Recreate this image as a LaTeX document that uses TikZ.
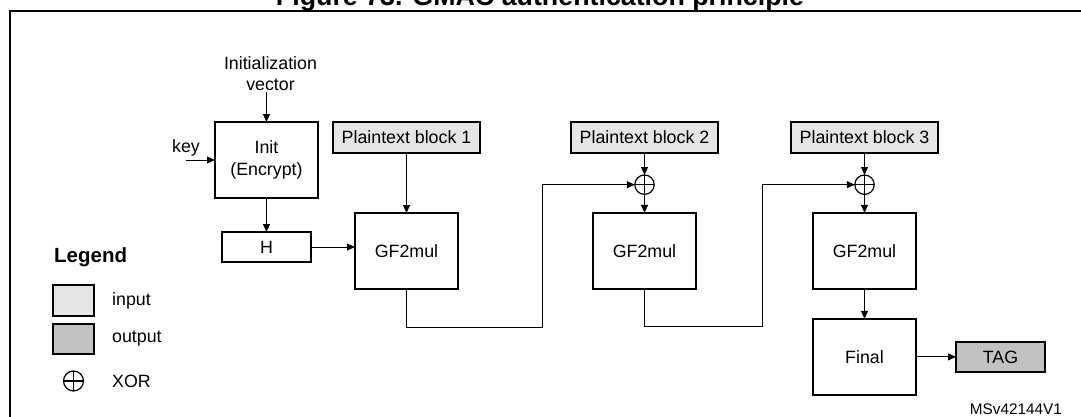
\documentclass[tikz,border=0pt]{standalone}
\usepackage{fontspec}
\setmainfont{Liberation Sans}
\usetikzlibrary{arrows.meta, positioning, calc}

\begin{document}
\begin{tikzpicture}[x=1pt, y=1pt,
    font=\fontsize{17.8}{21.5}\selectfont,
    blk/.style={draw, rectangle, line width=1.2pt, inner sep=0pt, outer sep=0pt},
    gfblk/.style={blk, minimum width=103pt, minimum height=76pt},
    inblk/.style={blk, fill=black!10, minimum width=147pt, minimum height=31pt},
    outblk/.style={blk, fill=black!24, minimum width=89pt, minimum height=30pt},
    xorop/.style={draw, circle, line width=1.2pt, minimum size=19.4pt, inner sep=0pt, outer sep=0pt,
        path picture={\draw[line width=1.2pt] (path picture bounding box.north) -- (path picture bounding box.south)
            (path picture bounding box.west) -- (path picture bounding box.east);}},
    arr/.style={-{Triangle[length=8pt, width=7pt]}, line width=1pt}]
    \useasboundingbox (0,0) rectangle (1081,416);

    % frame and title
    \draw[line width=2pt] (9.5,-20) |- (1100,404.5);
    \node[font=\bfseries\fontsize{26.8}{30}\selectfont, anchor=base, inner sep=0pt] (title) at (540,410) {Figure 73. GMAC authentication principle};

    % init part
    \node[blk, minimum width=103pt, minimum height=76pt, align=center] (init) at (266.5,256) {Init\\(Encrypt)};
    \node[align=center, inner sep=1pt, above=30pt of init, xshift=4pt] (iv) {Initialization\\vector};
    \coordinate[left=29pt of init] (keyin);
    \node[inner sep=1pt, above=3pt of keyin] (key) {key};
    \node[blk, minimum width=89pt, minimum height=30pt, below=34pt of init] (h) {H};

    % plaintext blocks
    \node[inblk, right=15pt of init.north east, anchor=north west] (pb1) {Plaintext block 1};
    \node[inblk, right=91pt of pb1] (pb2) {Plaintext block 2};
    \node[inblk, right=73pt of pb2] (pb3) {Plaintext block 3};

    % multiplications
    \node[gfblk, below=60pt of pb1] (gf1) {GF2mul};
    \node[xorop, below=22pt of pb2] (xor2) {};
    \node[gfblk, below=18.5pt of xor2] (gf2) {GF2mul};
    \node[xorop, below=22pt of pb3] (xor3) {};
    \node[gfblk, below=18.5pt of xor3] (gf3) {GF2mul};
    \node[gfblk, below=30pt of gf3] (final) {Final};
    \node[outblk, right=40pt of final] (tag) {TAG};

    % connectors
    \draw[arr] (iv.south -| init.north) -- (init.north);
    \draw[arr] (keyin) -- (init.west);
    \draw[arr] (init.south) -- (h.north);
    \draw[arr] (h.east) -- (h.east -| gf1.west);
    \draw[arr] (pb1.south) -- (gf1.north);
    \draw[arr] (pb2.south) -- (xor2.north);
    \draw[arr] (xor2.south) -- (gf2.north);
    \draw[arr] (pb3.south) -- (xor3.north);
    \draw[arr] (xor3.south) -- (gf3.north);
    \draw[arr] (gf1.south) -- ++(0,-38) -| ([xshift=-92pt]xor2.west) -- (xor2.west);
    \draw[arr] (gf2.south) -- ++(0,-38) -| ([xshift=-92pt]xor3.west) -- (xor3.west);
    \draw[arr] (gf3.south) -- (final.north);
    \draw[arr] (final.east) -- (tag.west);

    % legend
    \node[anchor=west, inner sep=0pt, font=\bfseries\fontsize{20.5}{24}\selectfont] (legend) at (54,159) {Legend};
    \node[inblk, minimum width=41pt, minimum height=31pt] (insw) at (73.5,115.5) {};
    \node[outblk, minimum width=41pt, minimum height=30pt, below=8pt of insw] (outsw) {};
    \node[xorop, minimum size=20pt, below=17pt of outsw] (xorleg) {};
    \node[inner sep=0pt, right=18pt of insw] (inlbl) {input};
    \node[inner sep=0pt, anchor=west] (outlbl) at (outsw -| inlbl.west) {output};
    \node[inner sep=0pt, anchor=west] (xorlbl) at (xorleg -| inlbl.west) {XOR};

    \node[anchor=base east, inner sep=0pt, font=\fontsize{15.3}{18}\selectfont] (ref) at (1062,2) {MSv42144V1};
\end{tikzpicture}
\end{document}
